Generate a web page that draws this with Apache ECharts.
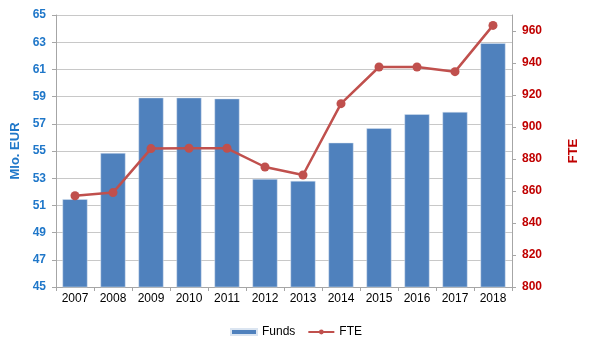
<!DOCTYPE html>
<html>
<head>
<meta charset="utf-8">
<script src="https://cdn.jsdelivr.net/npm/echarts@6/dist/echarts.min.js"></script>
<style>
  html, body { margin: 0; padding: 0; background: #fff; }
  #echart { width: 592px; height: 351px; }
</style>
</head>
<body>
<div id="echart"></div>
<script>
// data
const years = ['2007', '2008', '2009', '2010', '2011', '2012', '2013', '2014', '2015', '2016', '2017', '2018'];
const funds = [51.45, 54.85, 58.92, 58.92, 58.85, 52.94, 52.8, 55.61, 56.67, 57.7, 57.87, 62.92];
const fte = [857, 859, 886.5, 886.7, 886.7, 875, 870, 914.6, 937.5, 937.5, 934.6, 963.5];

let echart = echarts.init(document.getElementById('echart'));

let option = {
    animation: false,
    textStyle: { fontFamily: 'Liberation Sans, Arial, sans-serif' },
    grid: { left: 56, right: 80, top: 15, bottom: 64 },
    legend: {
        bottom: 8,
        left: 'center',
        itemGap: 12,
        itemWidth: 26,
        itemHeight: 6,
        textStyle: { color: '#000', fontSize: 12 },
        data: [
            { name: 'Funds', icon: 'rect' },
            { name: 'FTE' }
        ]
    },
    xAxis: {
        type: 'category',
        data: years,
        axisLine: { lineStyle: { color: '#a6a6a6' } },
        axisTick: { show: true, length: 4, lineStyle: { color: '#a6a6a6' } },
        axisLabel: { color: '#000', fontSize: 12, margin: 6 }
    },
    yAxis: [
        {
            type: 'value',
            min: 45,
            max: 65,
            interval: 2,
            name: 'Mlo. EUR',
            nameLocation: 'middle',
            nameGap: 34,
            nameTextStyle: { color: '#1f77c9', fontWeight: 'bold', fontSize: 13 },
            axisLine: { show: true, lineStyle: { color: '#a6a6a6' } },
            axisTick: { show: true, length: 4, lineStyle: { color: '#a6a6a6' } },
            axisLabel: { color: '#1f77c9', fontWeight: 'bold', fontSize: 12, margin: 10 },
            splitLine: { lineStyle: { color: '#c8c8c8' } }
        },
        {
            type: 'value',
            min: 800,
            max: 970,
            interval: 20,
            name: 'FTE',
            nameLocation: 'middle',
            nameGap: 55,
            nameTextStyle: { color: '#c00000', fontWeight: 'bold', fontSize: 13 },
            axisLine: { show: true, lineStyle: { color: '#a6a6a6' } },
            axisTick: { show: true, length: 4, lineStyle: { color: '#a6a6a6' } },
            axisLabel: { color: '#c00000', fontWeight: 'bold', fontSize: 12, margin: 10, showMaxLabel: false },
            splitLine: { show: false }
        }
    ],
    series: [
        {
            name: 'Funds',
            type: 'bar',
            data: funds,
            barWidth: 25,
            itemStyle: { color: '#4f81bd', borderColor: '#dbe5f1', borderWidth: 0.5 }
        },
        {
            name: 'FTE',
            type: 'line',
            yAxisIndex: 1,
            data: fte,
            symbol: 'circle',
            symbolSize: 9,
            lineStyle: { color: '#c0504d', width: 2.5 },
            itemStyle: { color: '#c0504d' }
        }
    ]
};

echart.setOption(option);
</script>
</body>
</html>
